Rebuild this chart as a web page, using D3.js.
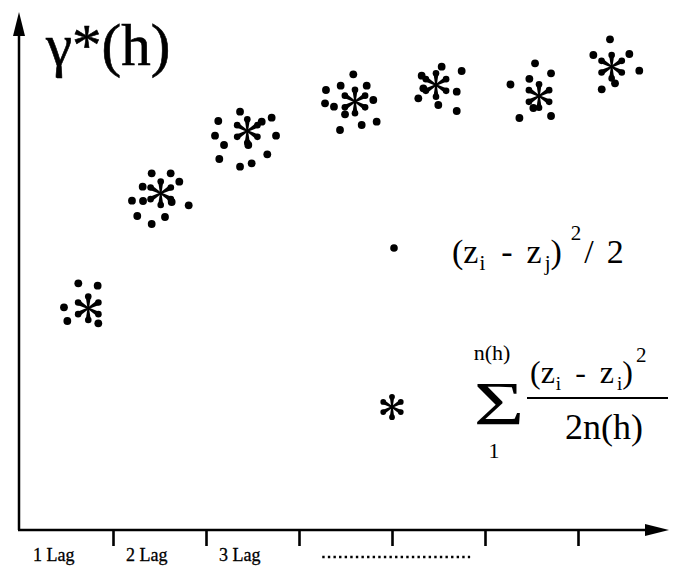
<!DOCTYPE html>
<head>
    <meta charset="utf-8" />
    <title>variogram cloud</title>
    <style>
    body { margin: 0; background: #fff; }
    svg text { font-family: "Liberation Serif", "Times New Roman", serif; fill: #000; }
    </style>
</head>
<body>
<div id="container"></div>
<script src="https://cdn.jsdelivr.net/npm/d3@7/dist/d3.min.js"></script>
<script>
// lag (x) and semivariance (y) in arbitrary units
var lagTicks = [1, 2, 3, 4, 5, 6];
var lagLabels = ["1 Lag", "2 Lag", "3 Lag"];
var starLag = [0.734, 1.513, 2.444, 3.602, 4.473, 5.581, 6.362];
var starGamma = [4.434, 6.734, 7.98, 8.57, 8.9, 8.68, 9.266];

// the cloud of (zi - zj)^2 / 2 for each lag
var cloud1 = [[0.627, 4.934], [0.835, 4.886], [0.473, 4.454], [0.509, 4.18], [0.842, 4.134]];
var cloud2 = [[1.416, 7.134], [1.62, 7.134], [1.713, 6.966], [1.319, 6.866], [1.204, 6.586], [1.323, 6.58],
    [1.631, 6.56], [1.814, 6.494], [1.261, 6.28], [1.559, 6.26], [1.416, 6.12]];
var cloud3 = [[2.366, 8.366], [2.706, 8.246], [2.132, 8.18], [2.599, 8.166], [2.097, 7.886], [2.753, 7.886],
    [2.194, 7.7], [2.455, 7.7], [2.659, 7.514], [2.143, 7.42], [2.491, 7.334], [2.366, 7.266]];
var cloud4 = [[3.584, 9.114], [3.448, 8.886], [3.728, 8.886], [3.29, 8.8], [3.28, 8.534], [3.376, 8.466],
    [3.799, 8.6], [3.495, 8.314], [3.835, 8.166], [3.674, 8.1], [3.441, 8.0]];
var cloud5 = [[4.534, 9.266], [4.749, 9.18], [4.319, 9.086], [4.337, 8.834], [4.696, 8.766], [4.283, 8.634],
    [4.498, 8.5], [4.696, 8.38]];
var cloud6 = [[5.538, 9.334], [5.71, 9.134], [5.274, 8.91], [5.477, 9.024], [5.52, 8.44], [5.37, 8.24], [5.71, 8.28]];
var cloud7 = [[6.344, 9.814], [6.165, 9.5], [6.552, 9.52], [6.659, 9.186], [6.255, 8.814], [6.398, 8.934]];

var width = 682,
    height = 569,
    serif = "'Liberation Serif', 'Times New Roman', serif";

var svg = d3.select("#container")
    .append("svg")
    .attr("width", width)
    .attr("height", height)
    .attr("font-family", serif);

var x = d3.scaleLinear().domain([0, 7]).range([20, 671]);
var y = d3.scaleLinear().domain([0, 10]).range([530, 30]);

// axes with arrow heads
svg.append("line")
    .attr("x1", 19).attr("y1", y(0)).attr("x2", 19).attr("y2", 30)
    .attr("stroke", "#000").attr("stroke-width", 2.5);
svg.append("path")
    .attr("d", "M19,12 L13,36 L25,36 Z");

svg.append("line")
    .attr("x1", 18).attr("y1", y(0)).attr("x2", 652).attr("y2", y(0))
    .attr("stroke", "#000").attr("stroke-width", 2.5);
svg.append("path")
    .attr("d", "M669," + y(0) + " L645," + (y(0) - 6) + " L645," + (y(0) + 6) + " Z");

var xAxis = d3.axisBottom(x)
    .tickValues(lagTicks)
    .tickSize(16)
    .tickFormat("");
var ax = svg.append("g")
    .attr("transform", "translate(0," + y(0) + ")")
    .call(xAxis);
ax.select(".domain").remove();
ax.selectAll(".tick line").attr("stroke", "#000").attr("stroke-width", 2.6);

svg.selectAll(".laglabel")
    .data(lagLabels)
    .enter()
    .append("text")
    .attr("class", "laglabel")
    .attr("x", (d, i) => x(i) + 13)
    .attr("y", 561)
    .attr("font-size", "18px")
    .attr("stroke", "#000")
    .attr("stroke-width", 0.3)
    .text(d => d);

svg.append("line")
    .attr("x1", x(3.25)).attr("x2", x(4.84))
    .attr("y1", 557).attr("y2", 557)
    .attr("stroke", "#000").attr("stroke-width", 2.4)
    .attr("stroke-dasharray", "2.4,3.2");

// title
svg.append("text")
    .attr("x", 46)
    .attr("y", 65)
    .attr("font-size", "59px")
    .attr("stroke", "#000")
    .attr("stroke-width", 0.6)
    .text("γ*(h)");

// asterisk with tear drop arms
function star(g, cx, cy, r) {
    var s = g.append("g").attr("transform", "translate(" + cx + "," + cy + ")");
    [-90, -30, 30, 90, 150, 210].forEach(function(a) {
        var t = a * Math.PI / 180,
            c = Math.cos(t),
            sn = Math.sin(t),
            e = r * 0.78,
            w0 = 0.8,
            w1 = r * 0.17;
        s.append("path")
            .attr("d", "M" + (-sn * w0) + "," + (c * w0) +
                " L" + (c * e - sn * w1) + "," + (sn * e + c * w1) +
                " L" + (c * e + sn * w1) + "," + (sn * e - c * w1) +
                " L" + (sn * w0) + "," + (-c * w0) + " Z");
        s.append("circle")
            .attr("cx", c * e)
            .attr("cy", sn * e)
            .attr("r", r * 0.22);
    });
}

var clouds = [cloud1, cloud2, cloud3, cloud4, cloud5, cloud6, cloud7];
clouds.forEach(function(cl) {
    svg.append("g")
        .selectAll("circle")
        .data(cl)
        .enter()
        .append("circle")
        .attr("cx", d => x(d[0]))
        .attr("cy", d => y(d[1]))
        .attr("r", 3.9);
});

starLag.forEach(function(l, i) {
    star(svg, x(l), y(starGamma[i]), 15);
});

// legend: single pair
svg.append("circle").attr("cx", 394).attr("cy", 248).attr("r", 3.8);
var t1 = svg.append("text")
    .attr("x", 452)
    .attr("y", 263)
    .attr("font-size", "34px");
t1.append("tspan").text("(z");
t1.append("tspan").attr("font-size", "21px").attr("dy", 7).attr("dx", 1).text("i");
t1.append("tspan").attr("dy", -7).attr("dx", 16).text("-");
t1.append("tspan").attr("dx", 14).text("z");
t1.append("tspan").attr("font-size", "21px").attr("dy", 7).attr("dx", 3).text("j");
t1.append("tspan").attr("dy", -7).text(")");
t1.append("tspan").attr("font-size", "21px").attr("dy", -23).attr("dx", 9).text("2");
t1.append("tspan").attr("dy", 23).attr("dx", 3).text("/");
t1.append("tspan").attr("dx", 13).text("2");

// legend: mean of the lag
star(svg, 392, 407, 13);
svg.append("text")
    .attr("transform", "translate(499,424) scale(1.4,1)")
    .attr("text-anchor", "middle")
    .attr("font-size", "62px")
    .text("Σ");
svg.append("text")
    .attr("x", 492).attr("y", 360)
    .attr("text-anchor", "middle")
    .attr("font-size", "22px")
    .text("n(h)");
svg.append("text")
    .attr("x", 494).attr("y", 458)
    .attr("text-anchor", "middle")
    .attr("font-size", "22px")
    .text("1");

var t2 = svg.append("text")
    .attr("x", 530)
    .attr("y", 383)
    .attr("font-size", "32px");
t2.append("tspan").text("(z");
t2.append("tspan").attr("font-size", "19px").attr("dy", 7).attr("dx", 1).text("i");
t2.append("tspan").attr("dy", -7).attr("dx", 14).text("-");
t2.append("tspan").attr("dx", 14).text("z");
t2.append("tspan").attr("font-size", "19px").attr("dy", 7).attr("dx", 3).text("i");
t2.append("tspan").attr("dy", -7).text(")");
t2.append("tspan").attr("font-size", "21px").attr("dy", -21).attr("dx", 3).text("2");

svg.append("line")
    .attr("x1", 527).attr("x2", 668)
    .attr("y1", 398).attr("y2", 398)
    .attr("stroke", "#000").attr("stroke-width", 2);

svg.append("text")
    .attr("x", 604).attr("y", 439)
    .attr("text-anchor", "middle")
    .attr("font-size", "36px")
    .text("2n(h)");
</script>
</body>
